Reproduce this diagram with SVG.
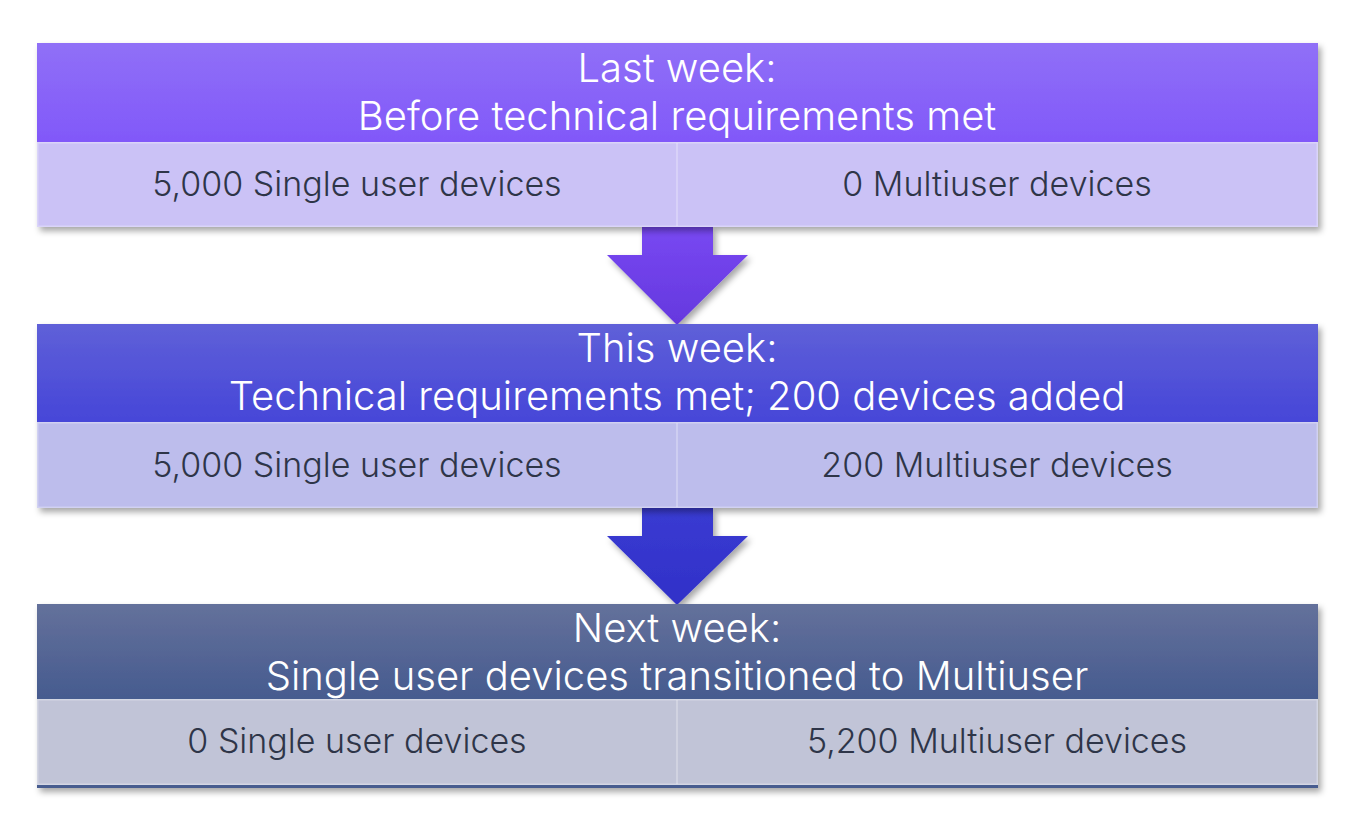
<svg xmlns="http://www.w3.org/2000/svg" width="1363" height="838" viewBox="0 0 1363 838">
<defs>
<filter id="sh" x="-5%" y="-10%" width="110%" height="125%">
<feDropShadow dx="3" dy="4" stdDeviation="3" flood-color="#000" flood-opacity="0.35"/>
</filter>
<linearGradient id="h1" x1="0" y1="0" x2="0" y2="1"><stop offset="0" stop-color="#9070f7"/><stop offset="1" stop-color="#8158f9"/></linearGradient>
<linearGradient id="h2" x1="0" y1="0" x2="0" y2="1"><stop offset="0" stop-color="#5f60d8"/><stop offset="1" stop-color="#4646d8"/></linearGradient>
<linearGradient id="h3" x1="0" y1="0" x2="0" y2="1"><stop offset="0" stop-color="#64719b"/><stop offset="1" stop-color="#465b8f"/></linearGradient>
<linearGradient id="a1" x1="0" y1="0" x2="0" y2="1"><stop offset="0" stop-color="#7848f2"/><stop offset="1" stop-color="#6538de"/></linearGradient>
<linearGradient id="a2" x1="0" y1="0" x2="0" y2="1"><stop offset="0" stop-color="#3a3bd2"/><stop offset="1" stop-color="#3030c8"/></linearGradient>
</defs>
<style>
.hd{font-family:Inter,"Noto Sans",sans-serif;font-weight:300;font-size:40px;fill:#ffffff;text-anchor:middle}
.rw{font-family:Inter,"Noto Sans",sans-serif;font-weight:300;font-size:34px;fill:#2e3548;text-anchor:middle}
.div{stroke:#ffffff;stroke-opacity:0.35;stroke-width:1.5}
.edge{fill:none;stroke:#ffffff;stroke-opacity:0.3;stroke-width:1.5}
</style>
<rect width="1363" height="838" fill="#ffffff"/>
<g id="connectors">
<polygon points="642,227 713,227 713,255 748,255 677,325 607,255 642,255" fill="url(#a1)" filter="url(#sh)"/>
<polygon points="642,508 713,508 713,536 748,536 677,605 607,536 642,536" fill="url(#a2)" filter="url(#sh)"/>
</g>
<g id="panel1">
<g filter="url(#sh)">
<rect x="37" y="43" width="1281" height="99" fill="url(#h1)"/>
<rect x="37" y="142" width="1281" height="85" fill="#cbc2f6"/>
</g>
<rect class="edge" x="37.75" y="142.75" width="1279.5" height="83.5"/>
<line class="div" x1="677" y1="143" x2="677" y2="226"/>
<text class="hd" x="677" y="82">Last week:</text>
<text class="hd" x="677" y="130">Before technical requirements met</text>
<text class="rw" x="357" y="196">5,000 Single user devices</text>
<text class="rw" x="997" y="196">0 Multiuser devices</text>
</g>
<g id="panel2">
<g filter="url(#sh)">
<rect x="37" y="324" width="1281" height="98" fill="url(#h2)"/>
<rect x="37" y="422" width="1281" height="86" fill="#bdbdec"/>
</g>
<rect class="edge" x="37.75" y="422.75" width="1279.5" height="84.5"/>
<line class="div" x1="677" y1="423" x2="677" y2="507"/>
<text class="hd" x="677" y="362">This week:</text>
<text class="hd" x="677" y="410">Technical requirements met; 200 devices added</text>
<text class="rw" x="357" y="477">5,000 Single user devices</text>
<text class="rw" x="997" y="477">200 Multiuser devices</text>
</g>
<g id="panel3">
<g filter="url(#sh)">
<rect x="37" y="604" width="1281" height="95" fill="url(#h3)"/>
<rect x="37" y="699" width="1281" height="89" fill="#465b8f"/>
<rect x="37" y="699" width="1281" height="86" fill="#c1c4d7"/>
</g>
<rect class="edge" x="37.75" y="699.75" width="1279.5" height="84.5"/>
<line class="div" x1="677" y1="700" x2="677" y2="784"/>
<text class="hd" x="677" y="642">Next week:</text>
<text class="hd" x="677" y="690">Single user devices transitioned to Multiuser</text>
<text class="rw" x="357" y="753">0 Single user devices</text>
<text class="rw" x="997" y="753">5,200 Multiuser devices</text>
</g>
</svg>
